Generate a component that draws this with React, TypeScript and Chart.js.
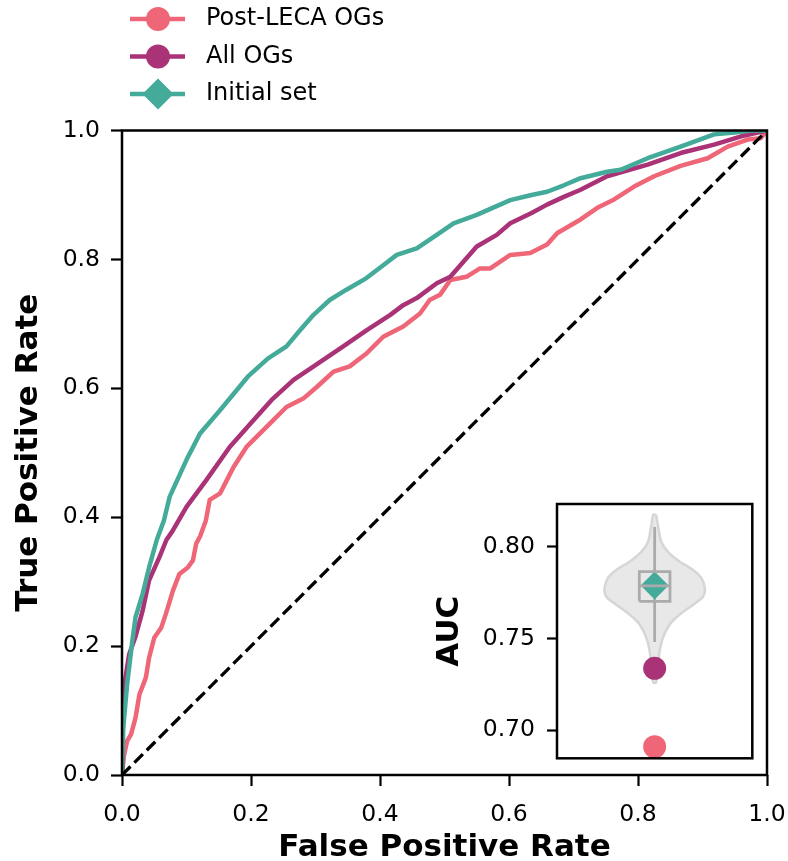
import React, { useEffect, useRef } from "react";
import { Chart, registerables } from "chart.js";

Chart.register(...registerables);

const FONT = "'DejaVu Sans', 'Liberation Sans', sans-serif";

// ---------- main ROC data ----------
const seriesNames = ["Post-LECA OGs", "All OGs", "Initial set"];
const seriesColors = ["#EE6677", "#AA3377", "#44AA99"];

const postLecaFpr = [0, 0.003, 0.008, 0.014, 0.021, 0.027, 0.037, 0.042, 0.05, 0.061, 0.068, 0.079, 0.089, 0.102, 0.11, 0.115, 0.121, 0.13, 0.136, 0.152, 0.173, 0.193, 0.214, 0.235, 0.255, 0.281, 0.302, 0.328, 0.353, 0.379, 0.405, 0.436, 0.462, 0.477, 0.493, 0.509, 0.534, 0.555, 0.571, 0.602, 0.633, 0.659, 0.675, 0.711, 0.737, 0.763, 0.794, 0.825, 0.866, 0.908, 0.939, 0.97, 0.99, 1.0];
const postLecaTpr = [0, 0.03, 0.053, 0.063, 0.089, 0.125, 0.151, 0.182, 0.213, 0.229, 0.25, 0.286, 0.312, 0.322, 0.333, 0.359, 0.37, 0.395, 0.427, 0.437, 0.478, 0.509, 0.53, 0.551, 0.571, 0.584, 0.602, 0.626, 0.634, 0.654, 0.68, 0.696, 0.716, 0.737, 0.745, 0.768, 0.773, 0.786, 0.786, 0.807, 0.81, 0.823, 0.841, 0.862, 0.88, 0.893, 0.913, 0.929, 0.945, 0.957, 0.975, 0.986, 0.988, 1.0];

const allOgsFpr = [0, 0.001, 0.003, 0.011, 0.021, 0.032, 0.042, 0.058, 0.069, 0.078, 0.1, 0.131, 0.167, 0.2, 0.232, 0.266, 0.3, 0.343, 0.379, 0.416, 0.436, 0.457, 0.488, 0.509, 0.529, 0.55, 0.581, 0.602, 0.635, 0.659, 0.685, 0.711, 0.752, 0.815, 0.866, 0.918, 0.96, 1.0];
const allOgsTpr = [0, 0.06, 0.136, 0.187, 0.215, 0.255, 0.302, 0.338, 0.365, 0.378, 0.416, 0.458, 0.509, 0.546, 0.582, 0.613, 0.636, 0.665, 0.69, 0.714, 0.729, 0.74, 0.763, 0.773, 0.796, 0.82, 0.838, 0.856, 0.872, 0.885, 0.897, 0.908, 0.929, 0.947, 0.965, 0.978, 0.991, 1.0];

const initialFpr = [0, 0.002, 0.008, 0.016, 0.021, 0.032, 0.042, 0.054, 0.065, 0.074, 0.1, 0.121, 0.152, 0.195, 0.226, 0.255, 0.276, 0.297, 0.322, 0.348, 0.379, 0.405, 0.426, 0.457, 0.488, 0.514, 0.55, 0.602, 0.635, 0.659, 0.685, 0.711, 0.752, 0.773, 0.815, 0.866, 0.918, 0.95, 0.975, 1.0];
const initialTpr = [0, 0.074, 0.141, 0.208, 0.245, 0.281, 0.322, 0.365, 0.395, 0.432, 0.489, 0.53, 0.566, 0.618, 0.646, 0.665, 0.69, 0.714, 0.737, 0.753, 0.771, 0.791, 0.807, 0.817, 0.838, 0.856, 0.869, 0.892, 0.9, 0.905, 0.915, 0.926, 0.936, 0.939, 0.957, 0.975, 0.994, 0.997, 1.0, 1.0];

const chanceFpr = [0, 1];
const chanceTpr = [0, 1];

const rocTicks = [0, 0.2, 0.4, 0.6, 0.8, 1.0];

// ---------- inset AUC data ----------
const aucTicks = [0.7, 0.75, 0.8];
const aucRange = [0.6847, 0.8234];
const aucValues = [0.691, 0.7338, 0.779]; // Post-LECA, All OGs, Initial set
const violinAuc = [0.8175, 0.8117, 0.8027, 0.7973, 0.7919, 0.7874, 0.7829, 0.7775, 0.773, 0.7685, 0.7631, 0.7577, 0.7504, 0.7432, 0.7342, 0.7261];
const violinDensity = [0.015, 0.034, 0.069, 0.137, 0.257, 0.394, 0.48, 0.514, 0.496, 0.394, 0.257, 0.154, 0.085, 0.051, 0.034, 0.015];
const boxQ1 = 0.7703;
const boxMedian = 0.7787;
const boxQ3 = 0.7865;
const whiskerLow = 0.7482;
const whiskerHigh = 0.8108;

const BOX_HALF = 0.157;

const zip = (xs: number[], ys: number[]) => xs.map((x, i) => ({ x, y: ys[i] }));

const mainFrame = {
  id: "mainFrame",
  afterDatasetsDraw(chart: any) {
    const { ctx, chartArea } = chart;
    const { left, top, right, bottom } = chartArea;
    ctx.save();
    ctx.strokeStyle = "#000";
    ctx.lineWidth = 2.5;
    ctx.strokeRect(left, top, right - left, bottom - top);
    ctx.restore();
  },
};

const legendPlugin = {
  id: "customLegend",
  afterDraw(chart: any) {
    const ctx = chart.ctx;
    const x0 = 130;
    const x1 = 185;
    const xm = 158;
    const rows = [19, 56.5, 94];
    ctx.save();
    seriesNames.forEach((name, i) => {
      const y = rows[i];
      ctx.strokeStyle = seriesColors[i];
      ctx.fillStyle = seriesColors[i];
      ctx.lineWidth = 4.5;
      ctx.beginPath();
      ctx.moveTo(x0, y);
      ctx.lineTo(x1, y);
      ctx.stroke();
      ctx.beginPath();
      if (i < 2) {
        ctx.arc(xm, y, 12, 0, Math.PI * 2);
      } else {
        ctx.moveTo(xm, y - 15.5);
        ctx.lineTo(xm + 15.5, y);
        ctx.lineTo(xm, y + 15.5);
        ctx.lineTo(xm - 15.5, y);
        ctx.closePath();
      }
      ctx.fill();
      ctx.fillStyle = "#000";
      ctx.font = `24px ${FONT}`;
      ctx.textBaseline = "middle";
      ctx.textAlign = "left";
      ctx.fillText(name, 206, y);
    });
    ctx.restore();
  },
};

const insetFrame = {
  id: "insetFrame",
  beforeDatasetsDraw(chart: any) {
    const { ctx, chartArea } = chart;
    const { left, top, right, bottom } = chartArea;
    ctx.save();
    ctx.fillStyle = "#fff";
    ctx.fillRect(left, top, right - left, bottom - top);
    ctx.restore();
  },
  afterDatasetsDraw(chart: any) {
    const { ctx, chartArea } = chart;
    const { left, top, right, bottom } = chartArea;
    ctx.save();
    ctx.strokeStyle = "#000";
    ctx.lineWidth = 2.5;
    ctx.strokeRect(left, top, right - left, bottom - top);
    ctx.restore();
  },
};

const zeroPad = (s: any) => {
  s.paddingLeft = 0;
  s.paddingRight = 0;
  s.paddingTop = 0;
  s.paddingBottom = 0;
};

function MainChart() {
  const ref = useRef<HTMLCanvasElement | null>(null);
  useEffect(() => {
    if (!ref.current) return;
    const tickFont = { family: FONT, size: 23.5, lineHeight: 1 };
    const titleFont = { family: FONT, size: 31, weight: "bold" as const, lineHeight: 1 };
    const lineDs = (label: string, xs: number[], ys: number[], color: string, order: number) => ({
      label,
      data: zip(xs, ys),
      showLine: true,
      borderColor: color,
      backgroundColor: color,
      borderWidth: 4.5,
      pointRadius: 0,
      tension: 0,
      borderJoinStyle: "round",
      order,
    });
    const chart = new Chart(ref.current, {
      type: "scatter",
      data: {
        datasets: [
          {
            label: "chance",
            data: zip(chanceFpr, chanceTpr),
            showLine: true,
            borderColor: "#000",
            borderWidth: 3.3,
            borderDash: [12, 5.5],
            pointRadius: 0,
            order: 0,
          },
          lineDs(seriesNames[2], initialFpr, initialTpr, seriesColors[2], 1),
          lineDs(seriesNames[1], allOgsFpr, allOgsTpr, seriesColors[1], 2),
          lineDs(seriesNames[0], postLecaFpr, postLecaTpr, seriesColors[0], 3),
        ] as any,
      },
      options: {
        animation: false,
        responsive: false,
        devicePixelRatio: 1,
        layout: { padding: { top: 130.5, right: 21, bottom: 0, left: 0 } },
        plugins: { legend: { display: false }, tooltip: { enabled: false } },
        scales: {
          x: {
            type: "linear",
            min: 0,
            max: 1,
            afterBuildTicks: (s: any) => {
              s.ticks = rocTicks.map((v) => ({ value: v }));
            },
            afterFit: (s: any) => {
              s.height = 86;
              zeroPad(s);
            },
            ticks: {
              autoSkip: false,
              maxRotation: 0,
              color: "#000",
              font: tickFont,
              padding: 17,
              callback: (v: any) => Number(v).toFixed(1),
            },
            grid: { display: true, drawOnChartArea: false, drawTicks: true, tickLength: 11, tickWidth: 2.2, tickColor: "#000" },
            border: { display: false },
            title: { display: true, text: "False Positive Rate", color: "#000", font: titleFont, padding: { top: 0, bottom: -2 } },
          },
          y: {
            type: "linear",
            min: 0,
            max: 1,
            afterBuildTicks: (s: any) => {
              s.ticks = rocTicks.map((v) => ({ value: v }));
            },
            afterFit: (s: any) => {
              s.width = 122;
              zeroPad(s);
            },
            ticks: {
              autoSkip: false,
              color: "#000",
              font: tickFont,
              padding: 11,
              callback: (v: any) => Number(v).toFixed(1),
            },
            grid: { display: true, drawOnChartArea: false, drawTicks: true, tickLength: 11, tickWidth: 2.2, tickColor: "#000" },
            border: { display: false },
            title: { display: true, text: "True Positive Rate", color: "#000", font: titleFont, padding: { top: 13.7, bottom: 0 } },
          },
        },
      } as any,
      plugins: [mainFrame, legendPlugin],
    });
    return () => chart.destroy();
  }, []);
  return <canvas ref={ref} width={788} height={861} style={{ position: "absolute", left: 0, top: 0, display: "block" }} />;
}

function InsetChart() {
  const ref = useRef<HTMLCanvasElement | null>(null);
  useEffect(() => {
    if (!ref.current) return;
    const right = violinAuc.map((v, i) => ({ x: violinDensity[i], y: v }));
    const left = violinAuc.map((v, i) => ({ x: -violinDensity[i], y: v })).reverse();
    const violin = [...right, ...left, right[0]];
    const gray = "#ababab";
    const chart = new Chart(ref.current, {
      type: "scatter",
      data: {
        datasets: [
          {
            label: "violin",
            data: violin,
            showLine: true,
            fill: "shape",
            backgroundColor: "#e8e8e8",
            borderColor: "#d6d6d6",
            borderWidth: 2.5,
            pointRadius: 0,
            tension: 0.35,
            order: 10,
            clip: false,
          },
          {
            label: "whisker",
            data: [
              { x: 0, y: whiskerLow },
              { x: 0, y: whiskerHigh },
            ],
            showLine: true,
            borderColor: gray,
            borderWidth: 2.8,
            pointRadius: 0,
            order: 9,
          },
          {
            label: seriesNames[2],
            data: [{ x: 0, y: aucValues[2] }],
            pointStyle: "rectRot",
            pointRadius: 14,
            backgroundColor: seriesColors[2],
            borderColor: seriesColors[2],
            borderWidth: 0,
            order: 8,
            clip: false,
          },
          {
            label: "box",
            data: [
              { x: -BOX_HALF, y: boxQ1 },
              { x: BOX_HALF, y: boxQ1 },
              { x: BOX_HALF, y: boxQ3 },
              { x: -BOX_HALF, y: boxQ3 },
              { x: -BOX_HALF, y: boxQ1 },
            ],
            showLine: true,
            borderColor: gray,
            borderWidth: 2.8,
            pointRadius: 0,
            order: 7,
          },
          {
            label: "median",
            data: [
              { x: -BOX_HALF, y: boxMedian },
              { x: BOX_HALF, y: boxMedian },
            ],
            showLine: true,
            borderColor: gray,
            borderWidth: 2.8,
            pointRadius: 0,
            order: 6,
          },
          {
            label: seriesNames[1],
            data: [{ x: 0, y: aucValues[1] }],
            pointStyle: "circle",
            pointRadius: 11.5,
            backgroundColor: seriesColors[1],
            borderWidth: 0,
            order: 2,
            clip: false,
          },
          {
            label: seriesNames[0],
            data: [{ x: 0, y: aucValues[0] }],
            pointStyle: "circle",
            pointRadius: 11.5,
            backgroundColor: seriesColors[0],
            borderWidth: 0,
            order: 1,
            clip: false,
          },
        ] as any,
      },
      options: {
        animation: false,
        responsive: false,
        devicePixelRatio: 1,
        layout: { padding: { top: 11.7, right: 17.7, bottom: 21.7, left: 0 } },
        plugins: { legend: { display: false }, tooltip: { enabled: false } },
        scales: {
          x: { type: "linear", min: -1, max: 1, display: false },
          y: {
            type: "linear",
            min: aucRange[0],
            max: aucRange[1],
            afterBuildTicks: (s: any) => {
              s.ticks = aucTicks.map((v) => ({ value: v }));
            },
            afterFit: (s: any) => {
              s.width = 147;
              zeroPad(s);
            },
            ticks: {
              autoSkip: false,
              color: "#000",
              font: { family: FONT, size: 23.5, lineHeight: 1 },
              padding: 12,
              callback: (v: any) => Number(v).toFixed(2),
            },
            grid: { display: true, drawOnChartArea: false, drawTicks: true, tickLength: 10, tickWidth: 2.2, tickColor: "#000" },
            border: { display: false },
            title: {
              display: true,
              text: "AUC",
              color: "#000",
              font: { family: FONT, size: 31, weight: "bold", lineHeight: 1 },
              padding: { top: 24, bottom: 0 },
            },
          },
        },
      } as any,
      plugins: [insetFrame],
    });
    return () => chart.destroy();
  }, []);
  return <canvas ref={ref} width={360} height={290} style={{ position: "absolute", left: 410, top: 490, display: "block" }} />;
}

export default function App() {
  return (
    <div style={{ position: "absolute", left: 0, top: 0, width: 788, height: 861, background: "#fff" }}>
      <MainChart />
      <InsetChart />
    </div>
  );
}
